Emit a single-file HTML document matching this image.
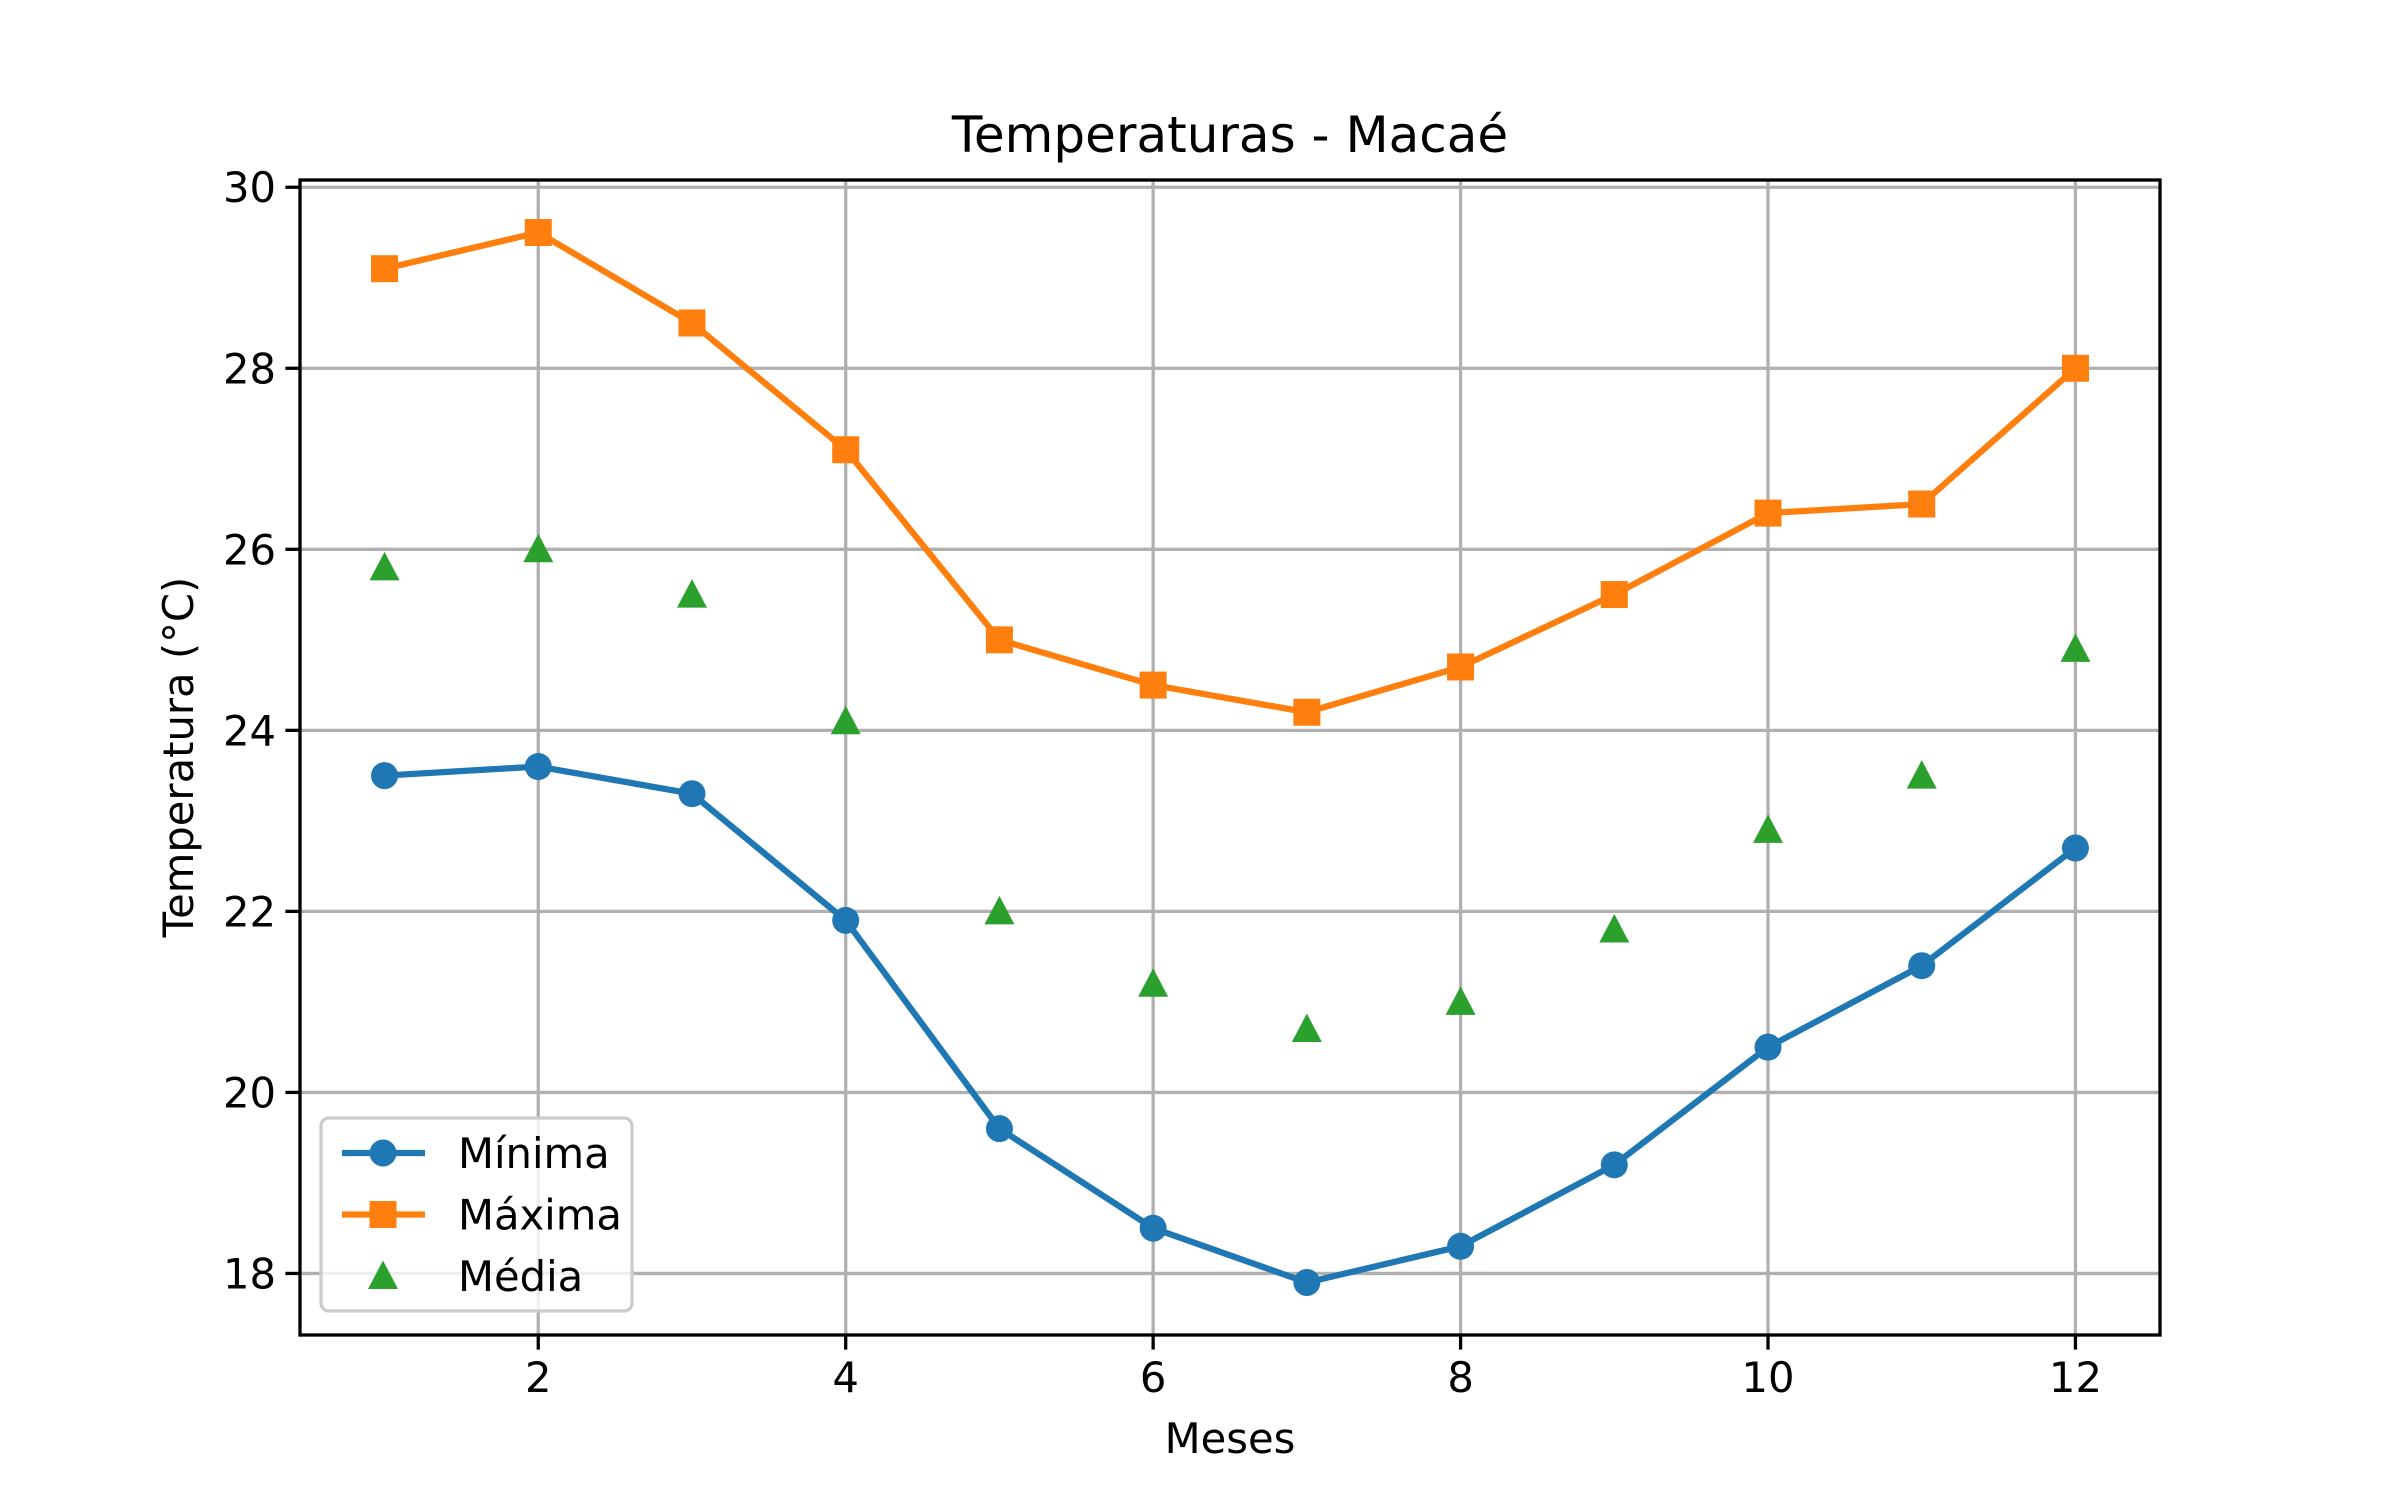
<!DOCTYPE html>
<html><head><meta charset="utf-8"><style>
html,body{margin:0;padding:0;background:#fff}
svg{display:block;font-family:"DejaVu Sans","Liberation Sans",sans-serif}
</style></head><body>
<svg id="chart" width="2400" height="1500" viewBox="0 0 2400 1500" xmlns="http://www.w3.org/2000/svg">
<rect width="2400" height="1500" fill="#fff"/>
<g id="grid"></g>
<g id="series"></g>
<rect x="300" y="180" width="1860" height="1155" fill="none" stroke="#000" stroke-width="3.3"/>
<g id="ticks"></g>
<text x="1230" y="152" font-size="50" text-anchor="middle">Temperaturas - Macaé</text>
<text x="1230" y="1453" font-size="41.7" text-anchor="middle">Meses</text>
<text transform="translate(193,757) rotate(-90)" font-size="41.7" text-anchor="middle">Temperatura (°C)</text>
<g id="legend"></g>
</svg>
<script>
const months=[1,2,3,4,5,6,7,8,9,10,11,12];
const minima=[23.5,23.6,23.3,21.9,19.6,18.5,17.9,18.3,19.2,20.5,21.4,22.7];
const maxima=[29.1,29.5,28.5,27.1,25.0,24.5,24.2,24.7,25.5,26.4,26.5,28.0];
const media=[25.8,26.0,25.5,24.1,22.0,21.2,20.7,21.0,21.8,22.9,23.5,24.9];
const xTicks=[2,4,6,8,10,12];
const yTicks=[18,20,22,24,26,28,30];
const NS="http://www.w3.org/2000/svg";
const L=300,R=2160,T=180,B=1335;
const all=minima.concat(maxima,media);
const ymn=Math.min(...all),ymx=Math.max(...all),yp=(ymx-ymn)*0.05;
const xmn=Math.min(...months),xmx=Math.max(...months),xp=(xmx-xmn)*0.05;
const xs=v=>L+(v-(xmn-xp))/((xmx+xp)-(xmn-xp))*(R-L);
const ys=v=>B-(v-(ymn-yp))/((ymx+yp)-(ymn-yp))*(B-T);
function mk(tag,attrs,parent){const e=document.createElementNS(NS,tag);for(const k in attrs)e.setAttribute(k,attrs[k]);parent.appendChild(e);return e;}
const grid=document.getElementById('grid'),ticks=document.getElementById('ticks'),ser=document.getElementById('series'),leg=document.getElementById('legend');
xTicks.forEach(t=>{const x=xs(t);
 let g=mk('line',{x1:x,x2:x,y1:T,y2:B,stroke:'#b0b0b0','stroke-width':3.3},grid);
 
 let tk=mk('line',{x1:x,x2:x,y1:B,y2:B+14.6,stroke:'#000','stroke-width':3.3},ticks);
 
 let tx=mk('text',{x:x,y:B+57,'font-size':41.7,'text-anchor':'middle'},ticks);tx.textContent=t;
 });
yTicks.forEach(t=>{const y=ys(t);
 let g=mk('line',{x1:L,x2:R,y1:y,y2:y,stroke:'#b0b0b0','stroke-width':3.3},grid);
 
 let tk=mk('line',{x1:L-14.6,x2:L,y1:y,y2:y,stroke:'#000','stroke-width':3.3},ticks);
 
 let tx=mk('text',{x:L-24,y:y+15,'font-size':41.7,'text-anchor':'end'},ticks);tx.textContent=t;
 });
function marker(kind,x,y,color,parent){
 let e;
 if(kind==='o')e=mk('circle',{cx:x,cy:y,r:13.5,fill:color},parent);
 else if(kind==='s')e=mk('rect',{x:x-13.5,y:y-13.5,width:27,height:27,fill:color},parent);
 else e=mk('polygon',{points:`${x},${y-15.5} ${x-15},${y+13} ${x+15},${y+13}`,fill:color},parent);
 return e;}
function series(vals,color,kind,line,name){
 if(line){let p=mk('polyline',{points:months.map((m,i)=>xs(m)+','+ys(vals[i])).join(' '),fill:'none',stroke:color,'stroke-width':6.25,'stroke-linejoin':'round','stroke-linecap':'square'},ser);
  }
 months.forEach((m,i)=>{let e=marker(kind,xs(m),ys(vals[i]),color,ser);
  });}
series(minima,'#1f77b4','o',true,'minima');
series(maxima,'#ff7f0e','s',true,'maxima');
series(media,'#2ca02c','^',false,'media');
let box=mk('rect',{x:321,y:1118,width:311,height:193,rx:8,fill:'#fff','fill-opacity':0.8,stroke:'#ccc','stroke-width':3.3},leg);

[['Mínima','#1f77b4','o',true],['Máxima','#ff7f0e','s',true],['Média','#2ca02c','^',false]].forEach((d,i)=>{
 const y=1153+i*61.5;
 if(d[3]){let l=mk('line',{x1:342,x2:425,y1:y,y2:y,stroke:d[1],'stroke-width':6.25},leg);
  }
 let m=marker(d[2],383,y,d[1],leg);
 
 let t=mk('text',{x:458,y:y+15,'font-size':41.7},leg);t.textContent=d[0];
 });
</script>
</body></html>
